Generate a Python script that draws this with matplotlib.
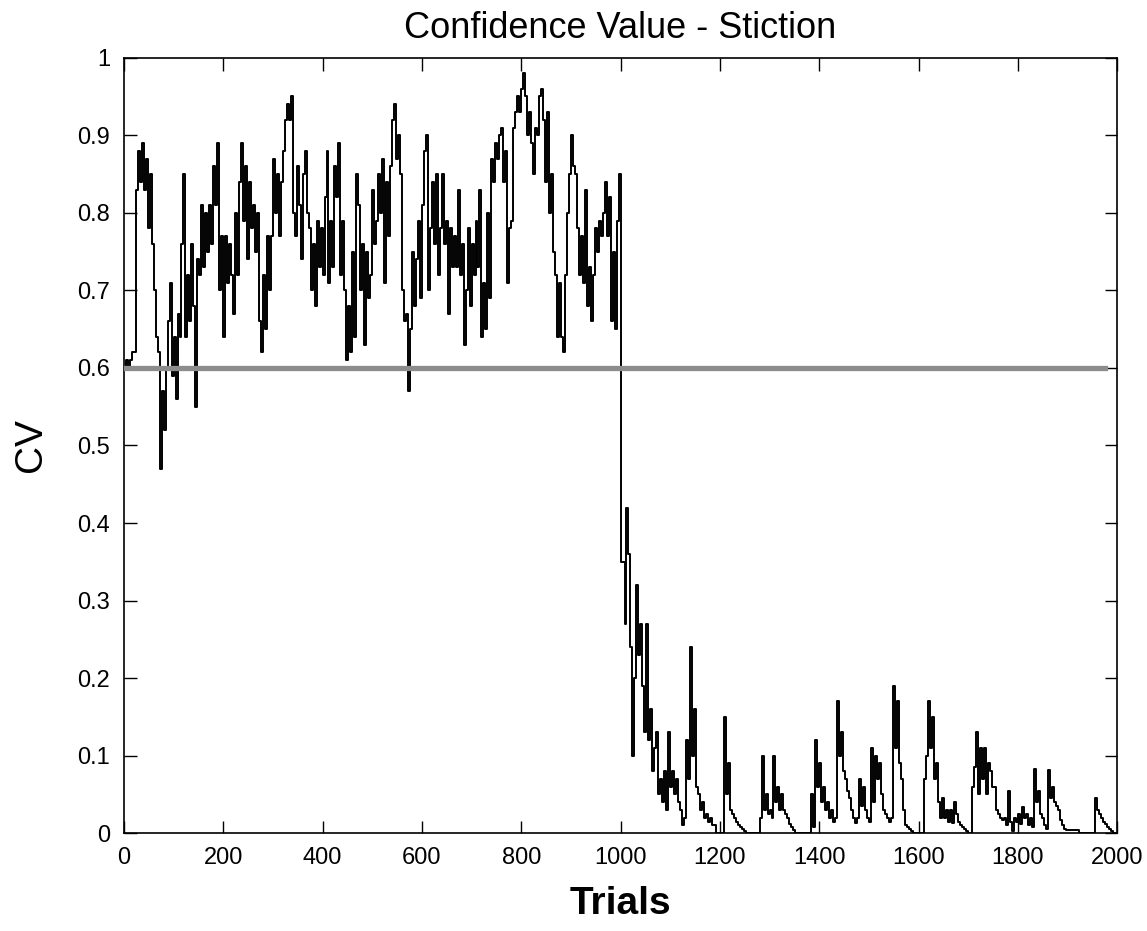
import numpy as np
import matplotlib
matplotlib.use("Agg")
import matplotlib.pyplot as plt

plt.rcParams['font.family'] = ['Liberation Sans', 'DejaVu Sans']

# trial grid (every 4th trial)
trials = np.arange(0, 2001, 4)

# CV values, one row per 100 trials
cv = [
    # 0 - 96
    0.60, 0.61, 0.60, 0.61, 0.62, 0.62, 0.83, 0.88, 0.84, 0.89, 0.83, 0.87, 0.78,
    0.85, 0.76, 0.70, 0.64, 0.62, 0.47, 0.57, 0.52, 0.60, 0.66, 0.71, 0.59,
    # 100 - 196
    0.64, 0.56, 0.67, 0.64, 0.76, 0.85, 0.64, 0.72, 0.66, 0.76, 0.68, 0.55, 0.74,
    0.72, 0.81, 0.73, 0.80, 0.75, 0.81, 0.76, 0.86, 0.81, 0.89, 0.70, 0.77,
    # 200 - 296
    0.64, 0.77, 0.71, 0.76, 0.72, 0.67, 0.80, 0.72, 0.84, 0.89, 0.79, 0.86, 0.74,
    0.84, 0.78, 0.81, 0.75, 0.80, 0.66, 0.62, 0.72, 0.65, 0.77, 0.70, 0.77,
    # 300 - 396
    0.87, 0.80, 0.85, 0.77, 0.84, 0.88, 0.92, 0.94, 0.92, 0.95, 0.80, 0.77, 0.86,
    0.81, 0.74, 0.85, 0.88, 0.80, 0.78, 0.70, 0.76, 0.68, 0.79, 0.73, 0.78,
    # 400 - 496
    0.72, 0.82, 0.88, 0.71, 0.79, 0.73, 0.86, 0.82, 0.89, 0.72, 0.79, 0.70, 0.61,
    0.68, 0.62, 0.75, 0.64, 0.85, 0.81, 0.70, 0.76, 0.63, 0.75, 0.69, 0.72,
    # 500 - 596
    0.83, 0.76, 0.79, 0.85, 0.80, 0.87, 0.71, 0.84, 0.77, 0.86, 0.92, 0.94, 0.87,
    0.90, 0.85, 0.70, 0.66, 0.67, 0.57, 0.65, 0.75, 0.68, 0.74, 0.79, 0.69,
    # 600 - 696
    0.81, 0.88, 0.90, 0.70, 0.78, 0.84, 0.76, 0.85, 0.72, 0.78, 0.85, 0.76, 0.79,
    0.67, 0.78, 0.73, 0.77, 0.73, 0.83, 0.72, 0.76, 0.63, 0.70, 0.78, 0.68,
    # 700 - 796
    0.76, 0.72, 0.79, 0.73, 0.83, 0.64, 0.71, 0.65, 0.80, 0.69, 0.87, 0.84, 0.89,
    0.87, 0.90, 0.91, 0.84, 0.88, 0.71, 0.78, 0.79, 0.91, 0.93, 0.95, 0.93,
    # 800 - 896
    0.96, 0.98, 0.95, 0.90, 0.93, 0.89, 0.85, 0.91, 0.90, 0.95, 0.96, 0.92, 0.84,
    0.93, 0.80, 0.85, 0.75, 0.72, 0.64, 0.71, 0.64, 0.62, 0.72, 0.80, 0.85,
    # 900 - 996
    0.90, 0.86, 0.85, 0.78, 0.72, 0.77, 0.71, 0.83, 0.68, 0.73, 0.66, 0.72, 0.78,
    0.75, 0.79, 0.77, 0.80, 0.84, 0.77, 0.82, 0.66, 0.75, 0.65, 0.79, 0.85,
    # 1000 - 1096
    0.35, 0.35, 0.27, 0.42, 0.36, 0.24, 0.10, 0.20, 0.32, 0.23, 0.27, 0.19, 0.13,
    0.27, 0.12, 0.16, 0.08, 0.11, 0.13, 0.05, 0.07, 0.04, 0.08, 0.03, 0.13,
    # 1100 - 1196
    0.06, 0.08, 0.05, 0.07, 0.04, 0.03, 0.01, 0.02, 0.12, 0.07, 0.24, 0.10, 0.16,
    0.06, 0.05, 0.03, 0.04, 0.02, 0.025, 0.015, 0.02, 0.01, 0.01, 0.0, 0.0,
    # 1200 - 1296
    0.0, 0.0, 0.15, 0.05, 0.09, 0.03, 0.025, 0.02, 0.015, 0.01, 0.008, 0.005, 0.003,
    0.0, 0.0, 0.0, 0.0, 0.0, 0.0, 0.0, 0.02, 0.10, 0.03, 0.05, 0.025,
    # 1300 - 1396
    0.03, 0.02, 0.10, 0.04, 0.06, 0.03, 0.05, 0.03, 0.025, 0.02, 0.012, 0.008, 0.004,
    0.0, 0.0, 0.0, 0.0, 0.0, 0.0, 0.0, 0.0, 0.05, 0.008, 0.12, 0.06,
    # 1400 - 1496
    0.09, 0.04, 0.06, 0.03, 0.04, 0.02, 0.03, 0.015, 0.02, 0.17, 0.10, 0.13, 0.08,
    0.07, 0.055, 0.045, 0.03, 0.02, 0.013, 0.02, 0.07, 0.035, 0.06, 0.03, 0.02,
    # 1500 - 1596
    0.015, 0.11, 0.04, 0.10, 0.07, 0.09, 0.05, 0.03, 0.025, 0.02, 0.015, 0.02, 0.19,
    0.11, 0.17, 0.09, 0.07, 0.03, 0.01, 0.008, 0.005, 0.003, 0.0, 0.0, 0.0,
    # 1600 - 1696
    0.0, 0.0, 0.0, 0.07, 0.10, 0.17, 0.11, 0.15, 0.07, 0.09, 0.04, 0.02, 0.045,
    0.02, 0.03, 0.015, 0.03, 0.013, 0.04, 0.025, 0.015, 0.01, 0.008, 0.005, 0.003,
    # 1700 - 1796
    0.0, 0.0, 0.06, 0.085, 0.13, 0.05, 0.11, 0.07, 0.11, 0.05, 0.09, 0.08, 0.06,
    0.06, 0.03, 0.025, 0.02, 0.017, 0.02, 0.01, 0.055, 0.015, 0.003, 0.02, 0.015,
    # 1800 - 1896
    0.025, 0.012, 0.034, 0.02, 0.025, 0.01, 0.02, 0.008, 0.083, 0.04, 0.055, 0.025, 0.02,
    0.01, 0.005, 0.081, 0.045, 0.06, 0.04, 0.035, 0.03, 0.017, 0.01, 0.005, 0.004,
    # 1900 - 1996
    0.004, 0.004, 0.004, 0.004, 0.004, 0.004, 0.0, 0.0, 0.0, 0.0, 0.0, 0.0, 0.0,
    0.0, 0.045, 0.03, 0.025, 0.02, 0.015, 0.012, 0.008, 0.005, 0.003, 0.0, 0.0,
    # 2000
    0.0,
]

# threshold line
thresh_trials = [0, 1975]
thresh_cv = [0.6, 0.6]

fig = plt.figure(figsize=(11.47, 9.31), dpi=100)
ax = fig.add_axes([0.108, 0.105, 0.866, 0.833])

ax.plot(thresh_trials, thresh_cv, color='#8c8c8c', linewidth=3.8, zorder=3)
ax.plot(trials, cv, color='black', linewidth=1.4, drawstyle='steps-post', zorder=2)

ax.set_xlim(0, 2000)
ax.set_ylim(0, 1)
ax.set_xticks(np.arange(0, 2001, 200))
ax.set_yticks(np.arange(0, 1.01, 0.1))
ax.set_yticklabels(['0', '0.1', '0.2', '0.3', '0.4', '0.5', '0.6', '0.7', '0.8', '0.9', '1'])

ax.tick_params(direction='in', length=9, width=1, top=True, right=True,
               labelsize=17, pad=10)
for s in ax.spines.values():
    s.set_linewidth(1.2)

ax.set_title('Confidence Value - Stiction', fontsize=26, pad=14)
ax.set_xlabel('Trials', fontsize=28, fontweight='bold', labelpad=12)
ax.set_ylabel('CV', fontsize=28, labelpad=20)

fig.savefig('out.png', dpi=100)
